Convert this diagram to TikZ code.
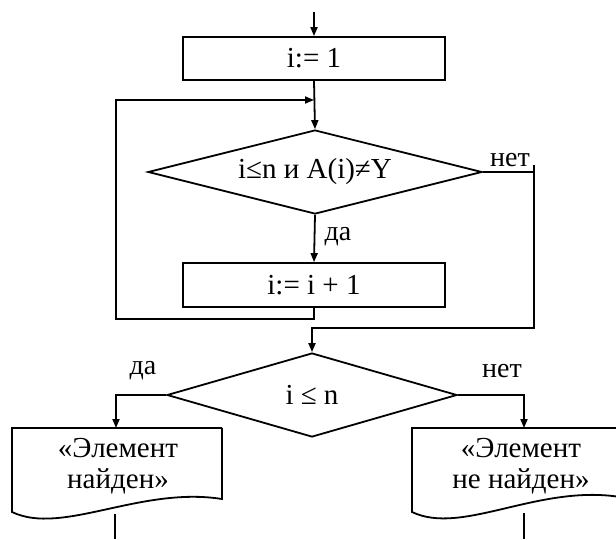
\documentclass[tikz,border=0pt]{standalone}
\usepackage{fontspec}
\setmainfont{Liberation Serif}
\usetikzlibrary{shapes.geometric,arrows.meta}
\begin{document}
\begin{tikzpicture}[x=1pt,y=-1pt,line width=1.8pt,
  proc/.style={draw,rectangle,minimum width=262pt,minimum height=43pt,inner sep=0pt,font=\fontsize{29}{32}\selectfont},
  cond/.style={draw,diamond,inner sep=0pt,font=\fontsize{29}{32}\selectfont},
  lbl/.style={inner sep=0pt,font=\fontsize{28}{30}\selectfont},
  txt/.style={inner sep=0pt,align=center,font=\fontsize{29}{31}\selectfont},
  arr/.style={-{Triangle[length=9pt,width=7pt]}}]
\useasboundingbox (0,0) rectangle (616,539);

\coordinate (top) at (314,12);
\node[proc] (b1) at (314,58.5) {i:= 1};
\node[cond,shape aspect=3.98,minimum width=334pt,minimum height=84pt] (d1) at (315,172) {i≤n и A(i)≠Y};
\node[proc,minimum height=44pt] (b2) at (314,285) {i:= i + 1};
\node[cond,shape aspect=3.45,minimum width=290pt,minimum height=84pt] (d2) at (312,395) {i ≤ n};

% labels
\node[lbl] (l1) at (510,160) {нет};
\node[lbl] (l2) at (338,237) {да};
\node[lbl] (l3) at (143,371) {да};
\node[lbl] (l4) at (502,371) {нет};

% main flow
\draw[arr] (top) -- (b1.north);
\draw[arr] (b1.south) -- (d1.north);
\draw[arr] (d1.south) -- (b2.north);

% loop back
\coordinate (lb) at (116,319);
\coordinate (lt) at (116,100);
\coordinate (m) at (314,100);
\draw[arr] (b2.south) |- (lb) -- (lt) -- (m);

% exit of first condition
\coordinate (nr) at (534,172);
\coordinate (ntop) at (534,165);
\coordinate (nb) at (534,328);
\draw (d1.east) -- (nr);
\draw[arr] (ntop) -- (nb) -| (d2.north);

% second condition branches
\coordinate (ya) at (116,428);
\coordinate (na) at (524,428);
\draw[arr] (d2.west) -| (ya);
\draw[arr] (d2.east) -| (na);

% left document
\coordinate (L1) at (12,428);
\coordinate (L2) at (222,428);
\coordinate (L3) at (222,499);
\coordinate (L4) at (12,512);
\draw (L2) -- (L1) -- (L4) .. controls (62,536) and (140,486) .. (L3) -- (L2);
\node[txt] (t1) at (118,466) {«Элемент\\найден»};
\coordinate (Lo) at (115,514);
\coordinate (Le) at (115,539);
\draw (Lo) -- (Le);

% right document
\coordinate (R1) at (412,428);
\coordinate (R2) at (620,428);
\coordinate (R3) at (620,497);
\coordinate (R4) at (412,512);
\draw (R2) -- (R1) -- (R4) .. controls (462,536) and (538,484) .. (R3);
\node[txt] (t2) at (521,466) {«Элемент\\не найден»};
\coordinate (Ro) at (524,513);
\coordinate (Re) at (524,539);
\draw (Ro) -- (Re);
\end{tikzpicture}
\end{document}
